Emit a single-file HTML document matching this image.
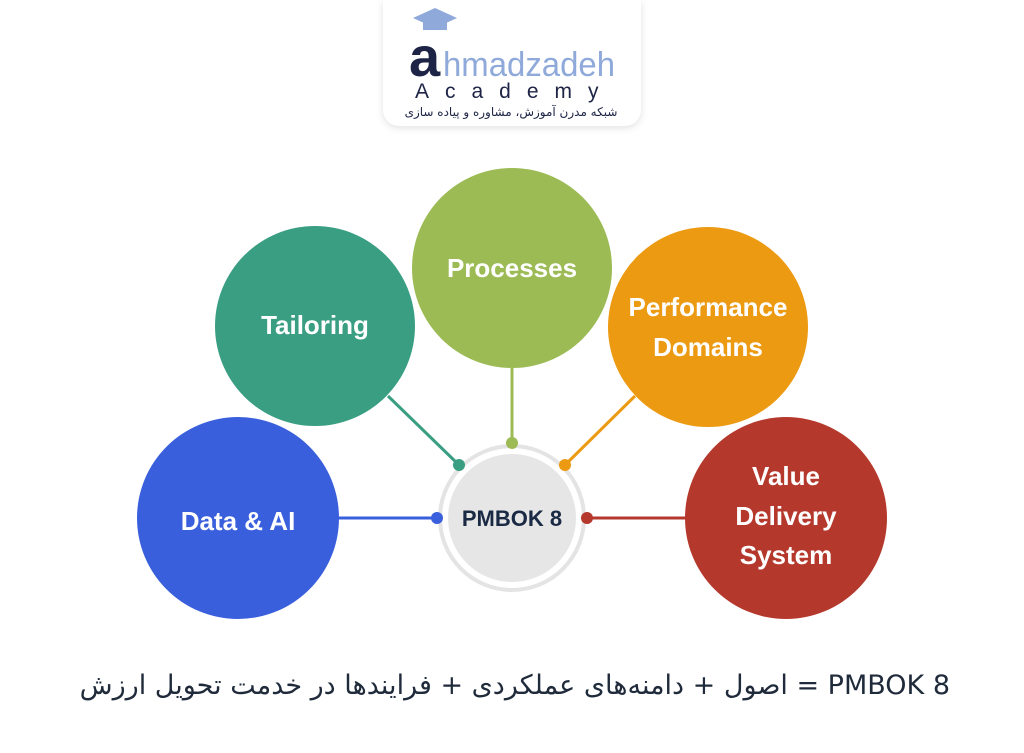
<!DOCTYPE html>
<html><head><meta charset="utf-8">
<style>
html,body{margin:0;padding:0;background:#fff;}
body{width:1024px;height:753px;position:relative;overflow:hidden;font-family:"Liberation Sans","DejaVu Sans",sans-serif;}
.logo{position:absolute;left:383px;top:0;width:258px;height:126px;background:#fff;border-radius:0 0 16px 16px;box-shadow:0 2px 8px rgba(0,0,0,0.12);}
.bottom{position:absolute;left:40px;width:910px;top:670px;font-size:27px;color:#1f2a3a;text-align:right;direction:rtl;font-family:"DejaVu Sans","Liberation Sans",sans-serif;white-space:nowrap;}
</style></head><body>
<div class="logo">
<svg width="258" height="126">
<polygon points="30,18 52,8 74,18 52,28" fill="#8fa9da"/>
<rect x="40" y="22" width="24" height="8" fill="#8fa9da"/>
<text x="26" y="76" font-family="Liberation Sans" font-weight="bold" font-size="56" fill="#1d2446">a</text>
<text x="60" y="76" font-family="Liberation Sans" font-size="34" fill="#8fa9da" textLength="172" lengthAdjust="spacingAndGlyphs">hmadzadeh</text>
<text x="32" y="98" font-family="Liberation Sans" font-size="21" fill="#1d2446" letter-spacing="16">Academy</text>
<text x="128" y="116" text-anchor="middle" font-family="DejaVu Sans" font-size="12" fill="#1d2446" direction="rtl">شبکه مدرن آموزش، مشاوره و پیاده سازی</text>
</svg>
</div>
<svg width="1024" height="753" style="position:absolute;left:0;top:0">
<g stroke-width="3">
<line x1="512" y1="368" x2="512" y2="443" stroke="#9cbb55"/>
<line x1="388" y1="396" x2="459" y2="465" stroke="#3a9e83"/>
<line x1="635" y1="396" x2="565" y2="465" stroke="#ec9a12"/>
<line x1="338" y1="518" x2="437" y2="518" stroke="#3a5fdc"/>
<line x1="587" y1="518" x2="686" y2="518" stroke="#b5382c"/>
</g>
<circle cx="512" cy="518" r="72" fill="#fff" stroke="#e4e4e4" stroke-width="4"/>
<circle cx="512" cy="518" r="64" fill="#e6e6e6"/>
<circle cx="512" cy="443" r="6" fill="#9cbb55"/>
<circle cx="459" cy="465" r="6" fill="#3a9e83"/>
<circle cx="565" cy="465" r="6" fill="#ec9a12"/>
<circle cx="437" cy="518" r="6" fill="#3a5fdc"/>
<circle cx="587" cy="518" r="6" fill="#b5382c"/>
<text x="512" y="526" text-anchor="middle" font-size="22" font-weight="bold" fill="#1a2a44">PMBOK 8</text>
<circle cx="512" cy="268" r="100" fill="#9cbb55"/>
<circle cx="315" cy="326" r="100" fill="#3a9e83"/>
<circle cx="708" cy="327" r="100" fill="#ec9a12"/>
<circle cx="238" cy="518" r="101" fill="#3a5fdc"/>
<circle cx="786" cy="518" r="101" fill="#b5382c"/>
<g fill="#fff" font-size="26" font-weight="bold" text-anchor="middle">
<text x="512" y="277">Processes</text>
<text x="315" y="334">Tailoring</text>
<text x="708" y="316">Performance</text>
<text x="708" y="356">Domains</text>
<text x="238" y="530">Data &amp; AI</text>
<text x="786" y="485">Value</text>
<text x="786" y="525">Delivery</text>
<text x="786" y="564">System</text>
</g>
</svg>
<div class="bottom">PMBOK 8 = اصول + دامنه‌های عملکردی + فرایندها در خدمت تحویل ارزش</div>
</body></html>
